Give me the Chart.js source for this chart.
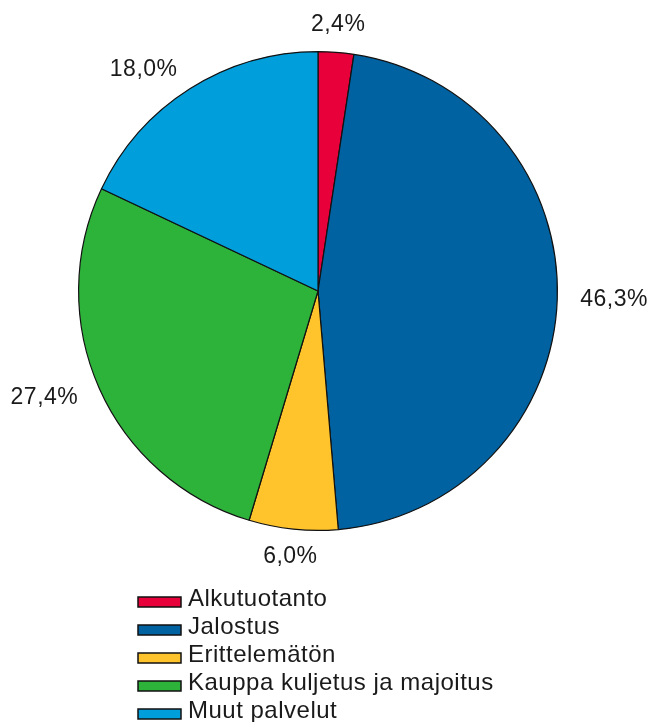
<!DOCTYPE html>
<html>
<head>
<meta charset="utf-8">
<script src="https://cdn.jsdelivr.net/npm/chart.js@4.4.1/dist/chart.umd.min.js"></script>
<style>
  html, body { margin: 0; padding: 0; background: #fff; }
  #wrap { width: 649px; height: 722px; }
</style>
</head>
<body>
<div id="wrap"><canvas id="pie" width="649" height="722"></canvas></div>
<script>
const labels = ['Alkutuotanto', 'Jalostus', 'Erittelemätön', 'Kauppa kuljetus ja majoitus', 'Muut palvelut'];
const values = [2.4, 46.3, 6.0, 27.4, 18.0];
const colors = ['#e8003a', '#0062a0', '#ffc42c', '#2db33a', '#009fdc'];

const FONT = '"Liberation Sans", Arial, sans-serif';

function fmt(v) {
    return v.toFixed(1).replace('.', ',') + '%';
}

// percentage labels outside each slice
const outsideLabels = {
    id: 'outsideLabels',
    afterDatasetsDraw(chart) {
        const ctx = chart.ctx;
        const meta = chart.getDatasetMeta(0);
        ctx.save();
        ctx.font = '23px ' + FONT;
        ctx.letterSpacing = '0.5px';
        ctx.fillStyle = '#1a1a1a';
        ctx.textBaseline = 'middle';
        meta.data.forEach((arc, i) => {
            const p = arc.getProps(['x', 'y', 'startAngle', 'endAngle', 'outerRadius'], true);
            const mid = (p.startAngle + p.endAngle) / 2;
            const c = Math.cos(mid);
            const d = p.outerRadius + (Math.abs(c) > 0.3 ? 23 : 28);
            const ax = p.x + c * d;
            const ay = p.y + Math.sin(mid) * d;
            if (c > 0.3) ctx.textAlign = 'left';
            else if (c < -0.3) ctx.textAlign = 'right';
            else ctx.textAlign = 'center';
            ctx.fillText(fmt(values[i]), ax, ay);
        });
        ctx.restore();
    }
};

// vertical legend under the pie
const listLegend = {
    id: 'listLegend',
    afterDraw(chart) {
        const ctx = chart.ctx;
        const left = 138;
        const top = 602;
        const step = 28;
        ctx.save();
        ctx.font = '24px ' + FONT;
        ctx.letterSpacing = '0.5px';
        ctx.textBaseline = 'alphabetic';
        ctx.textAlign = 'left';
        labels.forEach((name, i) => {
            const cy = top + i * step;
            ctx.fillStyle = colors[i];
            ctx.fillRect(left, cy - 5, 43, 10);
            ctx.strokeStyle = '#111';
            ctx.lineWidth = 1.5;
            ctx.strokeRect(left, cy - 5, 43, 10);
            ctx.fillStyle = '#1a1a1a';
            ctx.fillText(name, left + 50, cy + 4);
        });
        ctx.restore();
    }
};

new Chart(document.getElementById('pie'), {
    type: 'pie',
    data: {
        labels: labels,
        datasets: [{
            data: values,
            backgroundColor: colors,
            borderColor: '#111',
            borderWidth: 1.2,
            hoverOffset: 0,
            offset: 0,
        }],
    },
    options: {
        responsive: false,
        animation: false,
        devicePixelRatio: 1,
        layout: {
            padding: { left: 78, right: 91, top: 51, bottom: 191 },
        },
        plugins: {
            legend: { display: false },
            tooltip: { enabled: false },
        },
    },
    plugins: [outsideLabels, listLegend],
});
</script>
</body>
</html>
